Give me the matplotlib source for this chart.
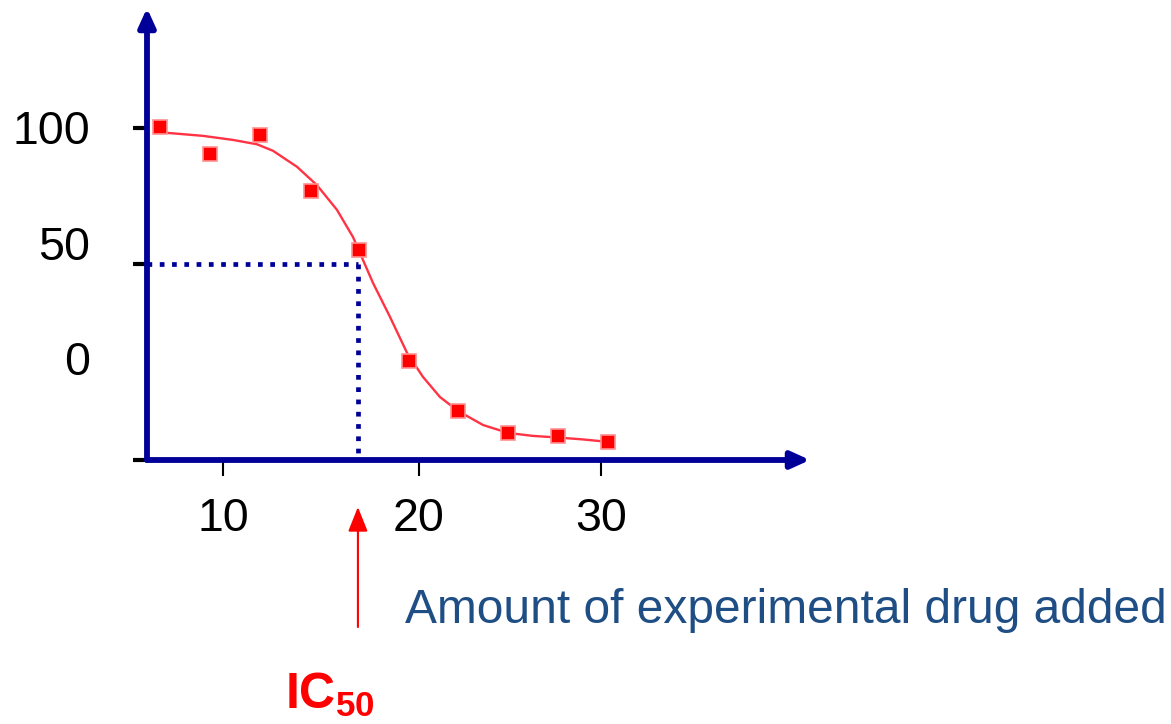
import matplotlib
matplotlib.use("Agg")
import matplotlib.pyplot as plt

plt.rcParams['font.family'] = ['Liberation Sans', 'DejaVu Sans']
plt.rcParams['mathtext.fontset'] = 'custom'
plt.rcParams['mathtext.bf'] = 'Liberation Sans:bold'
plt.rcParams['mathtext.rm'] = 'Liberation Sans'

# measured points (drug amount vs response)
conc = [6.67, 9.31, 11.96, 14.66, 17.2, 19.84, 22.43, 25.08, 27.72, 30.37]
resp = [100.4, 90.4, 97.4, 76.8, 55.1, 14.3, -4.0, -12.1, -13.2, -15.4]

# fitted dose-response curve as drawn
curve_x = [6.67, 7.04, 8.94, 10.53, 11.80, 12.65, 13.92, 14.97, 16.03, 16.88,
           17.25, 17.94, 18.84, 19.74, 20.58, 21.48, 22.43, 23.76, 25.08,
           26.40, 27.72, 29.05, 30.37]
curve_y = [98.2, 98.2, 97.1, 95.6, 94.0, 91.6, 85.7, 79.0, 69.9, 59.9,
           54.0, 43.0, 30.5, 17.3, 8.5, 1.1, -4.0, -9.2, -12.1,
           -13.2, -13.8, -14.5, -15.4]

ic50 = 17.14
half = 50

ytick_marks = [100, 50]
ylabel_pos = [100.4, 57.7, 15.3]
ylabel_txt = ['100', '50', '0']
xtick_pos = [10, 20.37, 30]
xtick_txt = ['10', '20', '30']

navy = '#000099'
W, H = 1171, 724
xmin, xmax = 5.98, 41.06
ymin, ymax = -22.06, 144.1

fig = plt.figure(figsize=(W / 100, H / 100), dpi=100)
ax = fig.add_axes([147 / W, (H - 460) / H, (810 - 147) / W, (460 - 8) / H])
ax.set_xlim(xmin, xmax)
ax.set_ylim(ymin, ymax)
for s in ax.spines.values():
    s.set_visible(False)

# y axis: tick marks and (offset) labels
ax.set_yticks(ylabel_pos, ylabel_txt)
ax.set_yticks(ytick_marks + [ymin], minor=True)
ax.tick_params(axis='y', which='major', length=0, pad=41, labelsize=33.5)
ax.tick_params(axis='y', which='minor', length=10, width=3, color='black')

ax.set_xticks(xtick_pos, xtick_txt)
ax.tick_params(axis='x', which='major', length=11.5, width=1.5, color='black',
               pad=15, labelsize=33.5)

# axes with arrow heads
arrow = dict(arrowstyle='-|>,head_length=0.55,head_width=0.25', color=navy,
             lw=4.2, mutation_scale=20, shrinkA=0, shrinkB=0)
ax.annotate('', xy=(xmin, ymax), xytext=(xmin, ymin), arrowprops=arrow,
            annotation_clip=False, zorder=5)
ax.annotate('', xy=(xmax, ymin), xytext=(xmin, ymin), arrowprops=arrow,
            annotation_clip=False, zorder=5)

# IC50 guide lines
ax.plot([xmin, ic50], [half, half], color=navy, lw=3.4, ls=(0, (1, 1.6)),
        clip_on=False, zorder=3)
ax.plot([ic50, ic50], [half, ymin], color=navy, lw=3.4, ls=(0, (1, 1.6)),
        clip_on=False, zorder=3)

# curve + points
ax.plot(curve_x, curve_y, color='#ff3344', lw=1.7, zorder=4,
        solid_joinstyle='round')
ax.plot(conc, resp, 's', color='#ff0000', ms=10, mec='#ff9090', mew=1.2,
        zorder=6)

# IC50 arrow below the axis
ax.annotate('', xy=(ic50, 1 - 507 / H), xytext=(ic50, 1 - 627 / H),
            xycoords=('data', 'figure fraction'),
            textcoords=('data', 'figure fraction'),
            arrowprops=dict(arrowstyle='-|>,head_length=0.75,head_width=0.3',
                            color='#ff0000', lw=1.5, mutation_scale=20,
                            shrinkA=0, shrinkB=0),
            annotation_clip=False)

fig.text(405 / W, 1 - 623 / H, 'Amount of experimental drug added',
         color='#1F4E85', fontsize=34.5, ha='left', va='baseline')
fig.text(285 / W, 1 - 709 / H, r'$\mathbf{IC_{50}}$', color='#ff0000',
         fontsize=36, ha='left', va='baseline')

fig.savefig('out.png', dpi=100)
